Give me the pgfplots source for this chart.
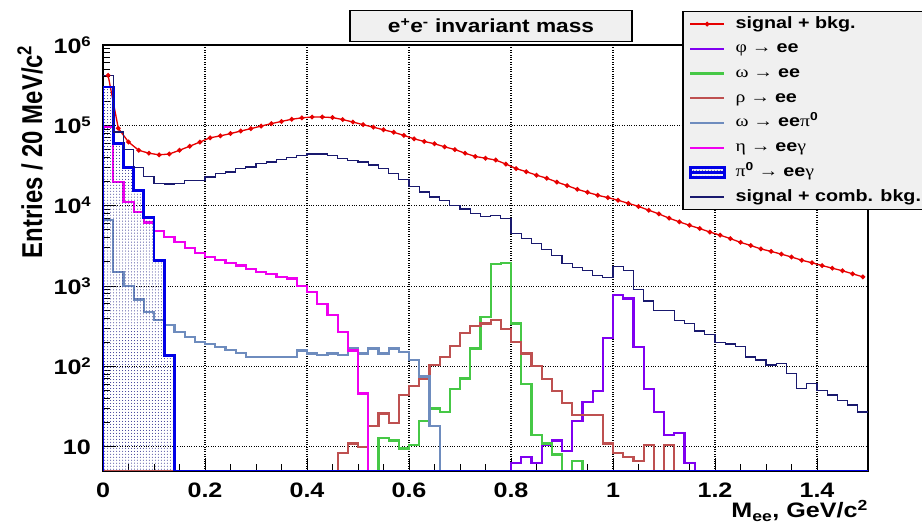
\documentclass[border=0pt]{standalone}
\usepackage{fontspec}
\setmainfont{Liberation Sans}[FakeStretch=1.2]
\newfontfamily\grk{Liberation Serif}[FakeStretch=1.2]
\newfontfamily\lbl{Liberation Sans}
\usepackage{pgfplots}
\pgfplotsset{compat=1.18}
\usetikzlibrary{patterns}
\definecolor{cred}{RGB}{230,0,0}
\definecolor{cphi}{RGB}{128,0,240}
\definecolor{comg}{RGB}{70,200,70}
\definecolor{crho}{RGB}{190,80,80}
\definecolor{comp}{RGB}{110,140,190}
\definecolor{ceta}{RGB}{240,0,240}
\definecolor{cpi}{RGB}{0,0,230}
\definecolor{cnavy}{RGB}{25,25,110}
\definecolor{lgray}{RGB}{240,240,240}
\definecolor{dotc}{RGB}{40,40,140}
\newcommand\sups[1]{\raisebox{7bp}{\fontsize{14}{14}\selectfont #1}}
\newcommand\gk[1]{{\grk\mdseries #1}}
\begin{document}
\begin{tikzpicture}
\useasboundingbox (0,0) rectangle (922bp,526bp);
\begin{axis}[
  at={(103bp,55bp)}, anchor=south west,
  width=765bp, height=426bp, scale only axis,
  xmin=0, xmax=1.5, ymode=log, ymin=5, ymax=1e6,
  xtick={0,0.2,0.4,0.6,0.8,1,1.2,1.4},
  xticklabels={0,0.2,0.4,0.6,0.8,1,1.2,1.4},
  minor x tick num=3,
  ytick={10,100,1000,10000,100000,1000000},
  yticklabels={10,10\sups{2},10\sups{3},10\sups{4},10\sups{5},10\sups{6}},
  tick pos=left, tick align=inside,
  major tick length=13bp, minor tick length=7bp,
  tick style={black, line width=1bp},
  grid=major,
  major grid style={black, dotted, line width=1.1bp},
  axis line style={line width=1.5bp},
  xticklabel style={anchor=north, inner sep=0pt, yshift=-12bp, font=\bfseries\fontsize{21}{24}\selectfont},
  yticklabel style={anchor=east, inner sep=0pt, xshift=-12bp, font=\bfseries\fontsize{21}{24}\selectfont},
  xlabel={M\textsubscript{ee}, GeV/c\textsuperscript{2}},
  xlabel style={at={(axis description cs:1,0)}, anchor=base east, yshift=-47bp, inner sep=0pt, font=\bfseries\fontsize{21}{24}\selectfont},
  ylabel={\scalebox{1}[1.2]{\lbl\bfseries\fontsize{24}{28}\selectfont Entries / 20 MeV/c\textsuperscript{2}}},
  ylabel style={at={(axis description cs:-0.0954,1)}, anchor=east, inner sep=0pt},
  legend image code/.code={\draw[#1, mark repeat=2, mark phase=2] plot coordinates {(0bp,0bp) (17bp,0bp) (34bp,0bp)};},
  legend cell align=left,
  legend style={at={(axis description cs:0.7569,1.0798)}, anchor=north west, draw=black, line width=1.5bp, fill=lgray,
    inner xsep=6bp, inner ysep=4.35bp, row sep=8.7bp, column sep=10bp,
    font=\bfseries\fontsize{16.5}{19}\selectfont,
    nodes={inner sep=0pt, text height=12bp, text depth=4bp}},
]
% signal + bkg.
\addplot[cred, line width=1.3bp, mark=*, mark size=1.7bp, mark options={solid}] table {
0.01 4.2e5
0.03 9.2e4
0.05 6.2e4
0.07 4.9e4
0.09 4.5e4
0.11 4.3e4
0.13 4.4e4
0.15 4.9e4
0.17 5.5e4
0.19 6.2e4
0.21 7.0e4
0.23 7.4e4
0.25 7.9e4
0.27 8.5e4
0.29 9.1e4
0.31 9.8e4
0.33 1.05e5
0.35 1.12e5
0.37 1.19e5
0.39 1.24e5
0.41 1.27e5
0.43 1.27e5
0.45 1.25e5
0.47 1.18e5
0.49 1.10e5
0.51 1.02e5
0.53 9.5e4
0.55 8.8e4
0.57 8.2e4
0.59 7.5e4
0.61 6.8e4
0.63 6.3e4
0.65 5.9e4
0.67 5.4e4
0.69 5.0e4
0.71 4.5e4
0.73 4.1e4
0.75 3.9e4
0.77 3.7e4
0.79 3.3e4
0.81 2.9e4
0.83 2.65e4
0.85 2.4e4
0.87 2.2e4
0.89 1.97e4
0.91 1.78e4
0.93 1.6e4
0.95 1.47e4
0.97 1.35e4
0.99 1.26e4
1.01 1.17e4
1.03 1.07e4
1.05 9.8e3
1.07 8.8e3
1.09 7.9e3
1.11 7.0e3
1.13 6.3e3
1.15 5.7e3
1.17 5.2e3
1.19 4.7e3
1.21 4.3e3
1.23 3.9e3
1.25 3.5e3
1.27 3.2e3
1.29 2.9e3
1.31 2.7e3
1.33 2.5e3
1.35 2.3e3
1.37 2.1e3
1.39 1.95e3
1.41 1.8e3
1.43 1.67e3
1.45 1.55e3
1.47 1.42e3
1.49 1.3e3
};
\addlegendentry{\makebox[200bp][l]{signal + bkg.}}
% phi -> ee
\addplot[const plot mark left, cphi, line width=2.2bp] table {
0 5
0.80 6.3
0.82 7.4
0.84 6.3
0.86 10.5
0.88 12
0.90 8.9
0.92 21
0.94 36
0.96 49
0.98 225
1.00 780
1.02 700
1.04 174
1.06 52
1.08 27
1.10 14
1.12 15
1.14 6.3
1.16 5
1.5 5
};
\addlegendentry{\gk{φ → }ee}
% omega -> ee
\addplot[const plot mark left, comg, line width=2.2bp] table {
0 5
0.54 13
0.56 12
0.58 9.5
0.60 10.5
0.62 21
0.64 30
0.66 27
0.68 53
0.70 71
0.72 167
0.74 415
0.76 1.9e3
0.78 1.95e3
0.80 343
0.82 61
0.84 14
0.86 11
0.88 8
0.90 5
0.92 6.6
0.94 5
1.5 5
};
\addlegendentry{\gk{ω → }ee}
% rho -> ee
\addplot[const plot mark left, crho, line width=2.2bp] table {
0 5
0.46 8.3
0.48 11
0.50 10
0.52 18
0.54 26
0.56 20
0.58 44
0.60 57
0.62 71
0.64 104
0.66 131
0.68 180
0.70 258
0.72 320
0.74 343
0.76 376
0.78 290
0.80 200
0.82 145
0.84 102
0.86 70
0.88 50
0.90 35
0.92 25
0.94 25
0.96 25
0.98 11
1.00 8.3
1.02 7.4
1.04 6.6
1.06 10.5
1.08 5
1.10 10.5
1.12 5
1.5 5
};
\addlegendentry{\gk{ρ → }ee}
% omega -> ee pi0
\addplot[const plot mark left, comp, line width=2.2bp] table {
0 6.6e3
0.02 1.5e3
0.04 1.0e3
0.06 680
0.08 480
0.10 376
0.12 325
0.14 268
0.16 234
0.18 200
0.20 190
0.22 174
0.24 160
0.26 148
0.28 130
0.30 132
0.32 130
0.34 132
0.36 132
0.38 158
0.40 145
0.42 138
0.44 145
0.46 138
0.48 167
0.50 145
0.52 167
0.54 145
0.56 167
0.58 150
0.60 120
0.62 75
0.64 18
0.66 5
1.5 5
};
\addlegendentry{\gk{ω → }ee\gk{π}\textsuperscript{0}}
% eta -> ee gamma
\addplot[const plot mark left, ceta, line width=2.2bp] table {
0 9.5e4
0.02 1.97e4
0.04 1.1e4
0.06 8.3e3
0.08 6.2e3
0.10 4.9e3
0.12 4.1e3
0.14 3.5e3
0.16 3.0e3
0.18 2.6e3
0.20 2.3e3
0.22 2.1e3
0.24 1.95e3
0.26 1.8e3
0.28 1.65e3
0.30 1.5e3
0.32 1.4e3
0.34 1.3e3
0.36 1.24e3
0.38 1.0e3
0.40 850
0.42 600
0.44 434
0.46 270
0.48 158
0.50 46
0.52 5
1.5 5
};
\addlegendentry{\gk{η → }ee\gk{γ}}
% pi0 -> ee gamma
\addplot[const plot mark left, draw=cpi, line width=2.8bp, pattern=dots, pattern color=dotc,
  legend image code/.code={\fill[pattern=dots, pattern color=dotc] (0bp,-5bp) rectangle (34bp,5bp);
    \draw[cpi, line width=2.8bp] (0bp,0bp) -- (34bp,0bp);}] table {
0 3.0e5
0.02 5.9e4
0.04 3.0e4
0.06 1.55e4
0.08 7.2e3
0.10 2.1e3
0.12 138
0.14 5
1.5 5
} \closedcycle;
\addlegendentry{\gk{π}\textsuperscript{0}\gk{ → }ee\gk{γ}}
% signal + comb. bkg.
\addplot[const plot mark left, cnavy, line width=1.3bp] table {
0 4.2e5
0.02 8.3e4
0.04 5.0e4
0.06 3.0e4
0.08 2.3e4
0.10 1.9e4
0.12 1.87e4
0.14 1.88e4
0.16 2.07e4
0.18 2.07e4
0.20 2.28e4
0.22 2.5e4
0.24 2.63e4
0.26 2.9e4
0.28 3.03e4
0.30 3.33e4
0.32 3.5e4
0.34 3.78e4
0.36 3.97e4
0.38 4.2e4
0.40 4.4e4
0.42 4.4e4
0.44 4.2e4
0.46 3.9e4
0.48 3.67e4
0.50 3.5e4
0.52 3.2e4
0.54 2.9e4
0.56 2.5e4
0.58 2.1e4
0.60 1.75e4
0.62 1.48e4
0.64 1.28e4
0.66 1.15e4
0.68 1.0e4
0.70 9.1e3
0.72 8.0e3
0.74 7.4e3
0.76 7.6e3
0.78 6.9e3
0.80 4.5e3
0.82 3.9e3
0.84 3.4e3
0.86 2.85e3
0.88 2.4e3
0.90 1.9e3
0.92 1.72e3
0.94 1.57e3
0.96 1.36e3
0.98 1.28e3
1.00 1.74e3
1.02 1.55e3
1.04 900
1.06 650
1.08 500
1.10 500
1.12 376
1.14 343
1.16 275
1.18 250
1.20 200
1.22 190
1.24 178
1.26 131
1.28 120
1.30 104
1.32 109
1.34 81
1.36 53
1.38 61
1.40 50
1.42 44
1.44 38
1.46 33
1.48 27
1.5 27
};
\addlegendentry{\makebox[200bp][l]{signal + comb. bkg.}}
\end{axis}
\node[draw=black, line width=1.5bp, fill=lgray, minimum width=282bp, minimum height=31bp, inner sep=0pt,
  font=\bfseries\fontsize{19}{22}\selectfont] at (491bp,500bp) {e\textsuperscript{+}e\textsuperscript{-} invariant mass};
\end{tikzpicture}
\end{document}
